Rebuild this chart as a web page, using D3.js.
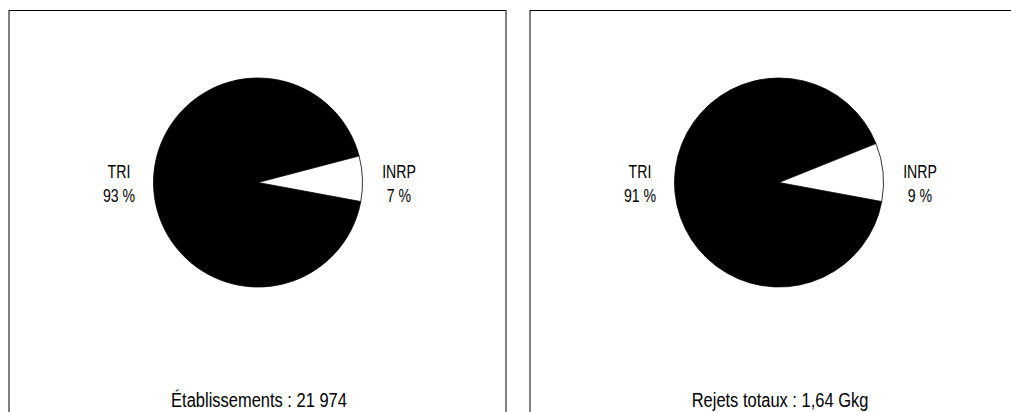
<html>
<head>
<meta charset="utf-8">
<title>TRI / INRP</title>
<style>
  body { margin: 0; background: #fff; }
  text { font-family: "Liberation Sans", Arial, sans-serif; fill: #000; }
</style>
<script src="https://d3js.org/d3.v7.min.js"></script>
</head>
<body>
<svg id="chart" width="1011" height="412"></svg>
<script>
// data
var categories = ["TRI", "INRP"];
var etabValues = [93, 7];
var rejetsValues = [91, 9];
var titles = ["Établissements : 21 974", "Rejets totaux : 1,64 Gkg"];

var svg = d3.select("#chart");

var panels = [
  {x0: 9, values: etabValues, title: titles[0]},
  {x0: 530, values: rejetsValues, title: titles[1]}
];

var radius = 104.5,
    cy = 182.5,
    start = 100.5 * Math.PI / 180,
    narrow = 0.785;   // no condensed font installed, squeeze Liberation Sans

var pie = d3.pie().sort(null)
  .startAngle(start)
  .endAngle(start + 2 * Math.PI);
var arc = d3.arc().innerRadius(0).outerRadius(radius);
var fills = d3.scaleOrdinal().domain(categories).range(["#000", "#fff"]);

function label(sel, x, y, size, str) {
  sel.append("text")
    .attr("transform", "translate(" + x + "," + y + ") scale(" + narrow + ",1)")
    .attr("text-anchor", "middle")
    .attr("font-size", size)
    .text(str);
}

panels.forEach(function(p) {
  var g = svg.append("g");

  // panel frame, bottom is cut off
  g.append("rect")
    .attr("x", p.x0).attr("y", 10.5)
    .attr("width", 497).attr("height", 440)
    .attr("fill", "none").attr("stroke", "#000").attr("stroke-width", 1);

  var cx = p.x0 + 249;
  var pg = g.append("g").attr("transform", "translate(" + cx + "," + cy + ")");

  pg.selectAll("path")
    .data(pie(p.values))
    .enter().append("path")
    .attr("d", arc)
    .attr("fill", function(d, i) { return fills(categories[i]); })
    .attr("stroke", "#000")
    .attr("stroke-width", 0.8);

  // labels left and right of the pie
  categories.forEach(function(c, i) {
    var lx = i == 0 ? -139 : 141;
    label(pg, lx, -5, 18, c);
    label(pg, lx, 19, 18, p.values[i] + " %");
  });

  label(g, cx + 1, 407, 21, p.title);
});
</script>
</body>
</html>
